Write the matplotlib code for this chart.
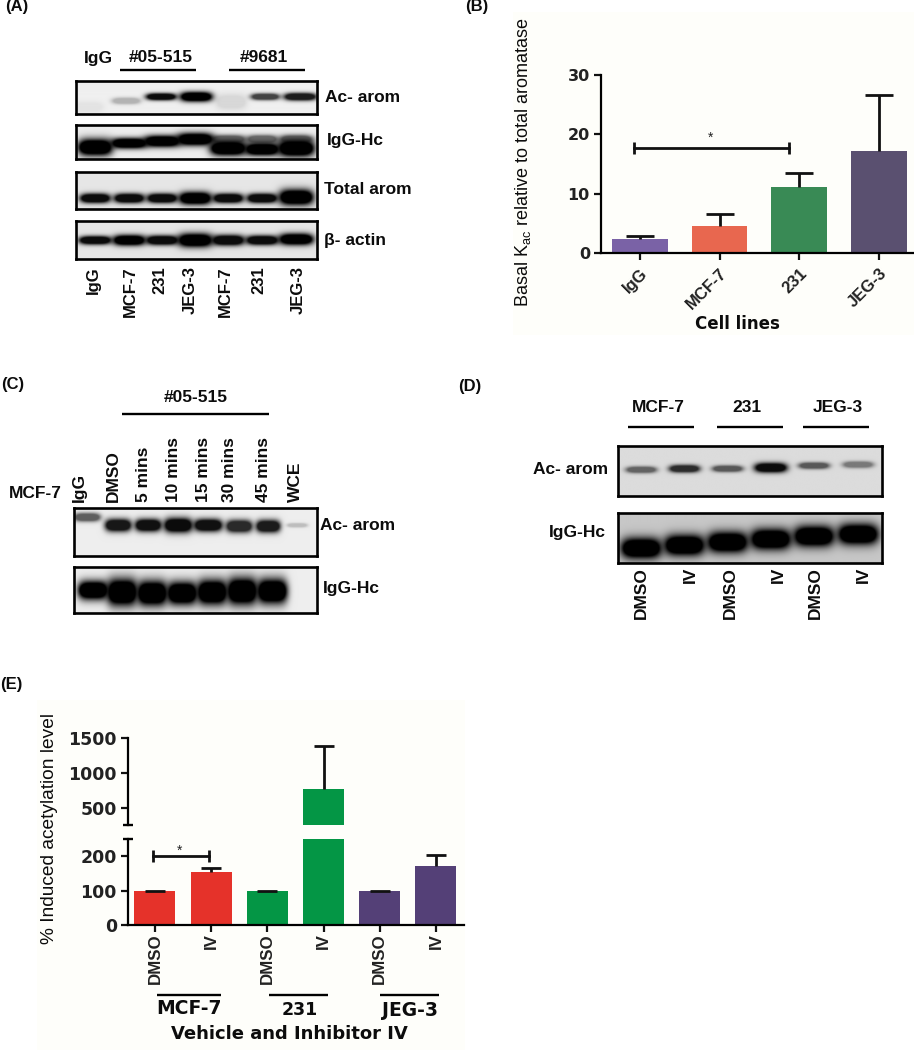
import numpy as np
import matplotlib
matplotlib.use('Agg')
import matplotlib.pyplot as plt
from matplotlib.patches import Rectangle

plt.rcParams['font.family'] = ['Liberation Sans', 'DejaVu Sans']
plt.rcParams['mathtext.fontset'] = 'custom'
plt.rcParams['mathtext.rm'] = 'Liberation Sans'

W, H = 914, 1050

# chart B
b_labels = ['IgG', 'MCF-7', '231', 'JEG-3']
b_values = [2.3, 4.6, 11.1, 17.2]
b_tops = [2.9, 6.6, 13.4, 26.7]
b_colors = ['#7a62a6', '#e8674f', '#398a55', '#5a5070']

# chart E
e_labels = ['DMSO', 'IV', 'DMSO', 'IV', 'DMSO', 'IV']
e_values = [100, 155, 100, 770, 100, 172]
e_tops = [100, 165, 100, 1385, 100, 203]
e_colors = ['#e5322a', '#e5322a', '#049645', '#049645', '#544077', '#544077']

# blot band darkness per lane
a_acarom = [0.05, 0.25, 0.95, 1.0, 0.1, 0.72, 0.88]
a_hc = [1, 1, 1, 1, 1, 1, 1, 0.55, 0.55, 0.55]
a_total = [0.95, 0.95, 0.95, 1, 0.95, 0.95, 1]
a_actin = [0.95, 1, 0.95, 1, 0.95, 0.95, 1]
c_acarom = [0.6, 0.9, 0.93, 0.95, 0.93, 0.82, 0.88, 0.2]
c_hc = [1, 1, 1, 1, 1, 1, 1]
d_acarom = [0.55, 0.8, 0.6, 0.95, 0.6, 0.45]
d_hc = [1, 1, 1, 1, 1, 1]


def px_axes(x0, y0, x1, y1, **kw):
    return fig.add_axes([x0 / W, 1 - y1 / H, (x1 - x0) / W, (y1 - y0) / H], **kw)


def blot(box, lanes, ys, hws, hhs, dark, bg=0.93):
    x0, y0, x1, y1 = box
    ax = px_axes(x0, y0, x1, y1)
    xx, yy = np.meshgrid(np.arange(x0, x1, 0.5), np.arange(y0, y1, 0.5))
    img = np.full(xx.shape, bg)
    for x, y, hw, hh, d in zip(lanes, ys, hws, hhs, dark):
        band = np.exp(-(((xx - x) / hw) ** 4 + ((yy - y) / hh) ** 2))
        img = img * (1 - d * np.clip(1.8 * band, 0, 1))
    ax.imshow(img, cmap='gray', vmin=0, vmax=1, aspect='auto', interpolation='bilinear')
    ax.set_xticks([])
    ax.set_yticks([])
    for s in ax.spines.values():
        s.set_linewidth(1.9)
        s.set_color('black')


def txt(x, y, s, size=12.5, ha='left', va='center', rot=0, weight='bold', family=None):
    over.text(x, y, s, fontsize=size, ha=ha, va=va, rotation=rot, fontweight=weight,
              family=family if family else ['Liberation Sans', 'DejaVu Sans'], color='#0c0c0c')


def line(x0, x1, y, lw=1.7):
    over.plot([x0, x1], [y, y], color='black', lw=lw, solid_capstyle='butt')


def bars(ax, xs, values, tops, colors, width, cap):
    ax.bar(xs, values, width=width, color=colors, zorder=2)
    ax.vlines(xs, values, tops, color='#111111', lw=2, zorder=3)
    ax.plot(xs, tops, ls='none', marker='_', ms=cap, mew=2, color='#111111', zorder=3)


fig = plt.figure(figsize=(9.14, 10.5), dpi=100)
over = fig.add_axes([0, 0, 1, 1], zorder=0)
over.set_xlim(0, W)
over.set_ylim(H, 0)
over.axis('off')
over.add_patch(Rectangle((513, 12), 401, 323, color='#fefefa', lw=0))
over.add_patch(Rectangle((37, 700), 428, 350, color='#fefefa', lw=0))

for x, y, s in [(5, 7, '(A)'), (465, 7, '(B)'), (1, 385, '(C)'), (458, 387, '(D)'), (0, 685, '(E)')]:
    txt(x, y, s, size=12)

# panel A
a_lanes = [95, 129, 162, 195, 228, 262, 296]
blot((76, 81, 317, 114), [88, 126, 161, 196, 231, 265, 300], [107, 101, 97, 97, 102, 97, 97],
     [15, 14, 15, 16, 15, 14, 16], [5, 3, 3.2, 4.5, 7, 3, 3.5], a_acarom, bg=0.94)
blot((76, 125, 317, 159), a_lanes + [228, 262, 296], [147, 143, 141, 139, 148, 149, 148, 139, 139, 139],
     [17, 18, 18, 18, 18, 17, 18, 17, 15, 16], [8, 5, 5.5, 6, 7, 6, 8, 4, 4, 4], a_hc)
blot((76, 172, 317, 209), a_lanes, [198, 198, 198, 198, 198, 198, 197],
     [15, 15, 15, 16, 15, 15, 17], [4.5, 4.5, 4.5, 6, 4.5, 4.5, 7.5], a_total, bg=0.9)
blot((76, 221, 317, 259), a_lanes, [240, 240, 240, 240, 240, 240, 239],
     [16, 16, 16, 17, 16, 16, 17], [4, 5, 4.5, 6.5, 5, 4.5, 5.5], a_actin, bg=0.9)

txt(98, 59, 'IgG', ha='center')
txt(161, 57, '#05-515', ha='center')
txt(264, 57, '#9681', ha='center')
line(120, 196, 70)
line(229, 305, 70)
txt(325, 97, 'Ac- arom')
txt(327, 140, 'IgG-Hc')
txt(324, 189, 'Total arom')
txt(324, 241, 'β- actin')
for x, s in zip([93, 130, 160, 190, 225, 259, 298],
                ['IgG', 'MCF-7', '231', 'JEG-3', 'MCF-7', '231', 'JEG-3']):
    txt(x, 266, s, ha='center', va='top', rot=90, size=12)

# panel C
blot((74, 508, 317, 556), [87, 118, 148, 178, 208, 239, 268, 297], [517, 525, 525, 525, 525, 526, 526, 525],
     [13, 13, 13, 14, 14, 13, 12, 10], [4, 6, 6, 7, 6, 6, 6, 2], c_acarom, bg=0.93)
blot((74, 567, 317, 613), [93, 122, 152, 182, 212, 242, 272], [590, 592, 593, 593, 592, 591, 591],
     [15, 15, 15, 15, 15, 15, 15], [9, 13, 12, 11, 12, 13, 12], c_hc)
txt(9, 493, 'MCF-7')
for x, s in zip([79, 113, 143, 173, 203, 230, 263, 295],
                ['IgG', 'DMSO', '5 mins', '10 mins', '15 mins', '30 mins', '45 mins', 'WCE']):
    txt(x, 502, s, ha='center', va='bottom', rot=90, size=12.5)
txt(196, 398, '#05-515', ha='center')
line(122, 269, 414)
txt(320, 526, 'Ac- arom')
txt(323, 589, 'IgG-Hc')

# panel D
d_lanes = [641, 684, 727, 770, 813, 857]
blot((618, 446, 882, 496), d_lanes, [470, 469, 469, 468, 466, 465],
     [15, 15, 15, 16, 15, 15], [3, 3.5, 3, 4.5, 3, 3], d_acarom, bg=0.86)
blot((618, 513, 882, 563), d_lanes, [548, 545, 542, 539, 536, 534],
     [20, 20, 20, 20, 20, 20], [10, 10, 10, 10, 10, 10], d_hc, bg=0.78)
for x, s in [(658, 'MCF-7'), (747, '231'), (838, 'JEG-3')]:
    txt(x, 408, s, ha='center')
line(628, 694, 427)
line(717, 783, 427)
line(803, 869, 427)
txt(533, 469, 'Ac- arom')
txt(549, 533, 'IgG-Hc')
for x, s in zip([641, 690, 730, 778, 815, 863], ['DMSO', 'IV', 'DMSO', 'IV', 'DMSO', 'IV']):
    txt(x, 567, s, ha='center', va='top', rot=90, size=12.5)

# chart B
axb = px_axes(601, 75, 913, 253, facecolor='none')
xb = np.arange(4)
bars(axb, xb, b_values, b_tops, b_colors, 0.7, 20)
axb.plot([-0.08, 1.87], [17.7, 17.7], color='#111111', lw=2, marker='|', ms=9, mew=2)
axb.text(0.89, 19.4, '*', ha='center', va='center', fontsize=10, color='#222222')
axb.set_xlim(-0.49, 3.43)
axb.set_ylim(0, 30)
axb.set_yticks([0, 10, 20, 30])
axb.set_xticks(xb)
axb.set_xticklabels(b_labels, rotation=45, ha='right', rotation_mode='anchor',
                    fontsize=12, family='Liberation Sans', fontweight='bold')
for lab in axb.get_yticklabels():
    lab.set_fontsize(11.5)
    lab.set_fontweight('bold')
    lab.set_family('DejaVu Sans')
axb.tick_params(length=5, width=1.6, pad=3, color='#111111', labelcolor='#222222')
axb.tick_params(axis='x', pad=4)
axb.spines[['top', 'right']].set_visible(False)
axb.spines[['left', 'bottom']].set_linewidth(1.6)
txt(523, 162, 'Basal K$_{\\mathrm{ac}}$ relative to total aromatase', ha='center', rot=90, size=13, weight='normal')
txt(737, 324, 'Cell lines', ha='center', size=12, family='DejaVu Sans')

# chart E, broken y axis
axe_top = px_axes(128, 738, 464, 825, facecolor='none')
axe_low = px_axes(128, 839, 464, 925, facecolor='none')
xe = np.arange(6)
for ax in [axe_top, axe_low]:
    bars(ax, xe, e_values, e_tops, e_colors, 0.73, 15)
    ax.set_xlim(-0.48, 5.5)
    ax.spines[['top', 'right']].set_visible(False)
    ax.spines['left'].set_linewidth(1.6)
    ax.tick_params(length=5, width=1.6, pad=3, color='#111111', labelcolor='#222222')

axe_top.set_ylim(250, 1500)
axe_top.set_yticks([500, 1000, 1500])
axe_top.set_xticks([])
axe_top.spines['bottom'].set_visible(False)

axe_low.set_ylim(0, 250)
axe_low.set_yticks([0, 100, 200])
axe_low.spines['bottom'].set_linewidth(1.6)
axe_low.set_xticks(xe)
axe_low.set_xticklabels(e_labels, rotation=90, fontsize=12.2, family='Liberation Sans', fontweight='bold')
axe_low.tick_params(axis='x', pad=1)
axe_low.plot([-0.04, 0.96], [201, 201], color='#111111', lw=2, marker='|', ms=9, mew=2, zorder=4)
axe_low.text(0.43, 217, '*', ha='center', va='center', fontsize=10, color='#222222')
for ax in [axe_top, axe_low]:
    for lab in ax.get_yticklabels():
        lab.set_fontsize(12.5)
        lab.set_fontweight('bold')
        lab.set_family('DejaVu Sans')

line(123, 133, 825)
line(123, 133, 839)
txt(50, 829, '% Induced acetylation level', ha='center', rot=90, size=13.8, weight='normal')
line(157, 221, 995)
line(269, 328, 995)
line(380, 439, 995)
txt(189, 1008, 'MCF-7', ha='center', size=13.5, family='DejaVu Sans')
txt(300, 1010, '231', ha='center', size=12.5, family='DejaVu Sans')
txt(410, 1010, 'JEG-3', ha='center', size=13.5, family='DejaVu Sans')
txt(289, 1034, 'Vehicle and Inhibitor IV', ha='center', size=13, family='DejaVu Sans')

fig.savefig('out.png', dpi=100)
